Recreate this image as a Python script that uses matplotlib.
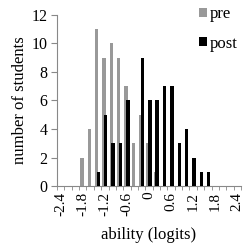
import numpy as np
import matplotlib
matplotlib.use("Agg")
import matplotlib.pyplot as plt

plt.rcParams['font.family'] = ['Liberation Serif', 'DejaVu Serif']

# histogram bins (centre of each 0.2-logit bin)
bins = [round(-2.4 + 0.2 * i, 1) for i in range(25)]
pre_counts = {-1.8: 2, -1.6: 4, -1.4: 11, -1.2: 9, -1.0: 10, -0.8: 9,
              -0.6: 7, -0.4: 3, -0.2: 5, 0.0: 3, 0.2: 1}
post_counts = {-1.4: 1, -1.2: 5, -1.0: 3, -0.8: 3, -0.6: 6, -0.2: 9,
               0.0: 6, 0.2: 6, 0.4: 7, 0.6: 7, 0.8: 3, 1.0: 4,
               1.2: 2, 1.4: 1, 1.6: 1}
pre = [pre_counts.get(b, 0) for b in bins]
post = [post_counts.get(b, 0) for b in bins]
tick_labels = ['-2.4', '-1.8', '-1.2', '-0.6', '0', '0.6', '1.2', '1.8', '2.4']

fig = plt.figure(figsize=(2.5, 2.5), dpi=100)
ax = fig.add_axes([0.228, 0.256, 0.736, 0.684])

x = np.array(bins)
w = 0.095
ax.bar(x - 0.023, pre, width=w, color='#999999', label='pre', zorder=2)
ax.bar(x + 0.023, post, width=w, color='black', label='post', zorder=3)

ax.set_xlim(-2.5, 2.5)
ax.set_ylim(0, 12)
ax.set_yticks(range(0, 13, 2))
ax.set_xticks(x[::3])
ax.set_xticklabels(tick_labels, rotation=90)
ax.set_xticks(np.arange(-2.5, 2.51, 0.2), minor=True)
ax.tick_params(axis='x', which='major', length=0, pad=4, labelsize=11)
ax.tick_params(axis='x', which='minor', length=3, color='#888888', direction='out')
ax.tick_params(axis='y', length=4, color='#888888', labelsize=11.5, pad=3)

for s in ['top', 'right']:
    ax.spines[s].set_visible(False)
for s in ['left', 'bottom']:
    ax.spines[s].set_color('#888888')
    ax.spines[s].set_linewidth(0.8)

ax.set_ylabel('number of students', fontsize=12, labelpad=2)
ax.set_xlabel('ability (logits)', fontsize=12, labelpad=8)

ax.legend(loc='upper left', bbox_to_anchor=(0.795, 0.975), bbox_transform=fig.transFigure,
          frameon=False, fontsize=12, handlelength=0.5, handleheight=0.5,
          handletextpad=0.15, labelspacing=0.8, borderaxespad=0, borderpad=0)

fig.savefig('out.png', dpi=100)
